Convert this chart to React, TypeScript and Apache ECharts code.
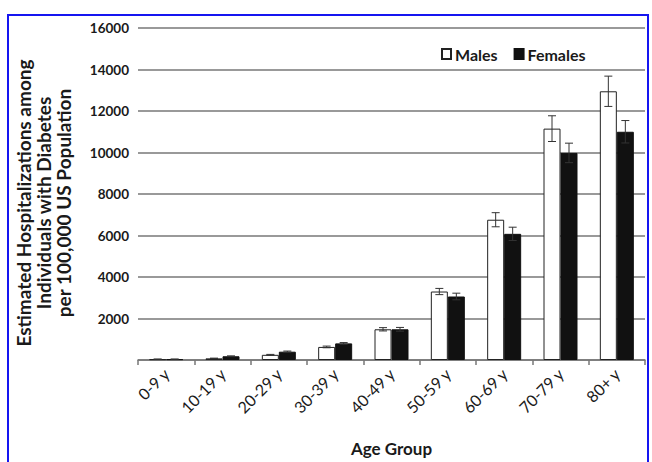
import React, { useEffect, useRef } from "react";
import * as echarts from "echarts";

const categories = ["0-9 y", "10-19 y", "20-29 y", "30-39 y", "40-49 y", "50-59 y", "60-69 y", "70-79 y", "80+ y"];
const males = [40, 80, 250, 630, 1480, 3300, 6760, 11150, 12950];
const malesErr = [5, 10, 20, 40, 80, 150, 340, 620, 730];
const females = [40, 180, 400, 800, 1480, 3060, 6080, 9980, 11000];
const femalesErr = [5, 20, 30, 40, 90, 160, 320, 470, 540];
const yTitleLines = ["Estimated Hospitalizations among", "Individuals with Diabetes", "per 100,000 US Population"];

const FONT = "Lato, 'Open Sans', sans-serif";
const BAR_W = 17;

function errSeries(name: string, vals: number[], errs: number[], side: number) {
  return {
    type: "custom",
    name: name + " err",
    z: 5,
    silent: true,
    data: vals.map((v, i) => [i, v - errs[i], v + errs[i]]),
    encode: { x: 0, y: [1, 2] },
    renderItem: (params: any, api: any) => {
      const i = api.value(0);
      const lo = api.coord([i, api.value(1)]);
      const hi = api.coord([i, api.value(2)]);
      const x = lo[0] + side * (BAR_W / 2);
      const cap = 4;
      const style = { stroke: "#333", lineWidth: 1 };
      return {
        type: "group",
        children: [
          { type: "line", shape: { x1: x, y1: lo[1], x2: x, y2: hi[1] }, style },
          { type: "line", shape: { x1: x - cap, y1: lo[1], x2: x + cap, y2: lo[1] }, style },
          { type: "line", shape: { x1: x - cap, y1: hi[1], x2: x + cap, y2: hi[1] }, style },
        ],
      };
    },
  };
}

export default function App() {
  const ref = useRef<HTMLDivElement>(null);
  useEffect(() => {
    const chart = echarts.init(ref.current!, null, { renderer: "svg" });
    chart.setOption({
      animation: false,
      backgroundColor: "#fff",
      textStyle: { fontFamily: FONT },
      grid: { left: 138, right: 7, top: 28, bottom: 98, containLabel: false },
      legend: {
        top: 41,
        left: 436,
        icon: "rect",
        itemWidth: 9,
        itemHeight: 10,
        itemGap: 16,
        data: ["Males", "Females"],
        textStyle: { fontFamily: FONT, fontWeight: "bold", fontSize: 16, color: "#1a1a1a", padding: [0, 0, 0, -1] },
      },
      xAxis: {
        type: "category",
        data: categories,
        axisLine: { show: true, lineStyle: { color: "#777", width: 1.5 } },
        axisTick: { show: true, length: 5, lineStyle: { color: "#777", width: 1.5 } },
        axisLabel: { rotate: 45, fontSize: 16, fontFamily: FONT, color: "#1a1a1a", margin: 11 },
        name: "Age Group",
        nameLocation: "middle",
        nameGap: 80,
        nameTextStyle: { fontFamily: FONT, fontWeight: "bold", fontSize: 17, color: "#1a1a1a" },
      },
      yAxis: {
        type: "value",
        min: 0,
        max: 16000,
        interval: 2000,
        axisLine: { show: false },
        axisTick: { show: false },
        axisLabel: {
          fontSize: 13.5,
          fontWeight: "bold",
          fontFamily: FONT,
          color: "#1a1a1a",
          margin: 9,
          formatter: (v: number) => (v === 0 ? "" : String(v)),
        },
        splitLine: { show: true, lineStyle: { color: "#777", width: 1.5 } },
      },
      graphic: [
        {
          type: "rect",
          shape: { x: 8, y: 15, width: 640, height: 460 },
          style: { fill: "none", stroke: "#1515f0", lineWidth: 2 },
          silent: true,
        },
        ...yTitleLines.map((t, k) => ({
          type: "text",
          x: 23 + k * 20,
          y: 203,
          rotation: Math.PI / 2,
          style: {
            text: t,
            font: "bold 19px " + FONT,
            fill: "#1a1a1a",
            textAlign: "center",
            textVerticalAlign: "middle",
          },
        })),
      ],
      series: [
        {
          name: "Males",
          type: "bar",
          data: males,
          barWidth: BAR_W,
          barGap: "0%",
          itemStyle: { color: "#fff", borderColor: "#222", borderWidth: 1 },
        },
        {
          name: "Females",
          type: "bar",
          data: females,
          barWidth: BAR_W,
          barGap: "0%",
          itemStyle: { color: "#111", borderColor: "#111", borderWidth: 1 },
        },
        errSeries("Males", males, malesErr, -1),
        errSeries("Females", females, femalesErr, 1),
      ],
    });
    return () => chart.dispose();
  }, []);
  return <div ref={ref} style={{ position: "fixed", left: 0, top: 0, width: 652, height: 462 }} />;
}
